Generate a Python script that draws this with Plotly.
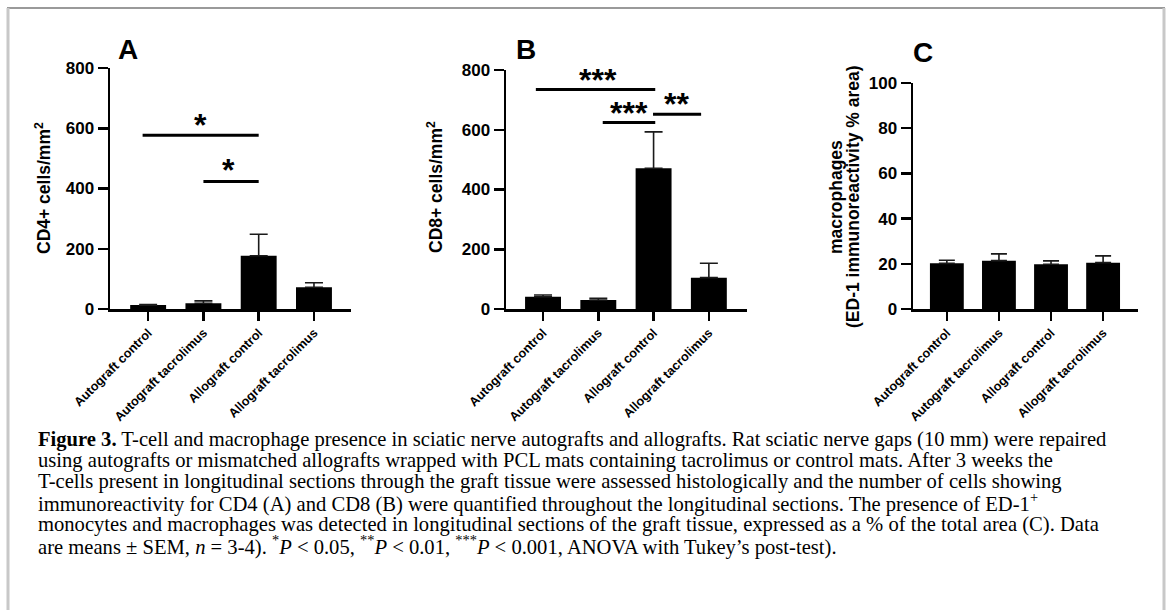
import plotly.graph_objects as go

W, H = 1166, 610

categories = ["Autograft control", "Autograft tacrolimus", "Allograft control", "Allograft tacrolimus"]

cd4_mean = [13, 19, 177, 72]
cd4_sem = [2, 8, 71, 15]

cd8_mean = [41, 30, 471, 105]
cd8_sem = [6, 6, 122, 48]

ed1_mean = [20.2, 21.4, 19.8, 20.5]
ed1_sem = [1.4, 3.0, 1.5, 3.0]

# significance brackets: (x start, x end, line y, label x, label y, label)
sig_A = [(-0.1, 2.0, 577, 0.94, 630, "*"), (1.0, 2.0, 423, 1.46, 481, "*")]
sig_B = [(-0.13, 2.03, 735, 1.0, 787, "***"), (1.08, 2.03, 624, 1.55, 677, "***"),
         (1.99, 2.86, 652, 2.41, 707, "**")]

yticks_AB = [0, 200, 400, 600, 800]
yticks_C = [0, 20, 40, 60, 80, 100]

caption_lines = [
    "<b>Figure 3.</b> T-cell and macrophage presence in sciatic nerve autografts and allografts. Rat sciatic nerve gaps (10 mm) were repaired",
    "using autografts or mismatched allografts wrapped with PCL mats containing tacrolimus or control mats. After 3 weeks the",
    "T-cells present in longitudinal sections through the graft tissue were assessed histologically and the number of cells showing",
    "immunoreactivity for CD4 (A) and CD8 (B) were quantified throughout the longitudinal sections. The presence of ED-1<sup>+</sup>",
    "monocytes and macrophages was detected in longitudinal sections of the graft tissue, expressed as a % of the total area (C). Data",
    "are means \u00b1 SEM, <i>n</i> = 3-4). <sup>*</sup><i>P</i> &lt; 0.05, <sup>**</sup><i>P</i> &lt; 0.01, <sup>***</sup><i>P</i> &lt; 0.001, ANOVA with Tukey\u2019s post-test).",
]

SANS = "Liberation Sans, Arial, sans-serif"
SERIF = "Liberation Serif, Times New Roman, serif"

def px_x(p):
    return p / W

def px_y(p):
    return 1 - p / H

panels = [
    dict(mean=cd4_mean, sem=cd4_sem, x0=110, x1=351, ytop=68, ybot=309, xr=[-0.69, 3.67],
         yr=[0, 800], ticks=yticks_AB, cap=9),
    dict(mean=cd8_mean, sem=cd8_sem, x0=506, x1=747, ytop=70, ybot=309, xr=[-0.67, 3.69],
         yr=[0, 800], ticks=yticks_AB, cap=9),
    dict(mean=ed1_mean, sem=ed1_sem, x0=913, x1=1138, ytop=83, ybot=309, xr=[-0.65, 3.67],
         yr=[0, 100], ticks=yticks_C, cap=8),
]

fig = go.Figure()
layout = dict(width=W, height=H,
              margin=dict(l=0, r=0, t=0, b=0, pad=0, autoexpand=False),
              paper_bgcolor="white", plot_bgcolor="white", showlegend=False,
              template="none")

for i, p in enumerate(panels):
    sfx = "" if i == 0 else str(i + 1)
    fig.add_trace(go.Bar(
        x=list(range(len(categories))), y=p["mean"], width=0.65,
        marker=dict(color="black", line=dict(width=0)),
        error_y=dict(type="data", symmetric=False, array=p["sem"],
                     arrayminus=[0] * len(p["sem"]), color="#1a1a1a",
                     thickness=1.6, width=p["cap"]),
        xaxis="x" + sfx, yaxis="y" + sfx,
    ))
    layout["xaxis" + sfx] = dict(
        domain=[px_x(p["x0"]), px_x(p["x1"])], range=p["xr"], anchor="y" + sfx,
        tickmode="array", tickvals=list(range(len(categories))), ticktext=categories,
        tickangle=-45, ticks="outside", ticklen=9, tickwidth=2.5, tickcolor="black",
        showline=True, linewidth=2.5, linecolor="black", showgrid=False, zeroline=False,
        tickfont=dict(family=SANS, size=12.7, color="black", weight="bold"),
        automargin=False, fixedrange=True,
    )
    layout["yaxis" + sfx] = dict(
        domain=[px_y(p["ybot"]), px_y(p["ytop"])], range=p["yr"], anchor="x" + sfx,
        tickmode="array", tickvals=p["ticks"], ticks="outside", ticklen=10,
        tickwidth=2.5, tickcolor="black", showline=True, linewidth=2.5,
        linecolor="black", showgrid=False, zeroline=False,
        tickfont=dict(family=SANS, size=17, color="black", weight="bold"),
        automargin=False, fixedrange=True,
    )

shapes = []
annotations = []

for sfx, sigs in (("", sig_A), ("2", sig_B)):
    for (xs, xe, yl, lx, ly, lab) in sigs:
        shapes.append(dict(type="line", xref="x" + sfx, yref="y" + sfx,
                           x0=xs, x1=xe, y0=yl, y1=yl,
                           line=dict(color="black", width=3)))
        annotations.append(dict(xref="x" + sfx, yref="y" + sfx, x=lx, y=ly, text=lab,
                                showarrow=False, xanchor="center", yanchor="middle",
                                yshift=-6,
                                font=dict(family=SANS, size=32, color="black", weight="bold")))

# panel letters
for lab, xpx, ypx in (("A", 128, 50), ("B", 526, 50), ("C", 923, 52)):
    annotations.append(dict(xref="paper", yref="paper", x=px_x(xpx), y=px_y(ypx), text=lab,
                            showarrow=False, xanchor="center", yanchor="middle",
                            font=dict(family=SANS, size=28, color="black", weight="bold")))

# y-axis titles
ytitles = [("CD4+ cells/mm<sup>2</sup>", 43, 188), ("CD8+ cells/mm<sup>2</sup>", 435, 187),
           ("macrophages", 836, 197), ("(ED-1 immunoreactivity % area)", 853, 197)]
for txt, xpx, ypx in ytitles:
    annotations.append(dict(xref="paper", yref="paper", x=px_x(xpx), y=px_y(ypx), text=txt,
                            showarrow=False, textangle=-90, xanchor="center", yanchor="middle",
                            font=dict(family=SANS, size=17.5, color="black", weight="bold")))

# caption
for k, line in enumerate(caption_lines):
    annotations.append(dict(xref="paper", yref="paper", x=px_x(36), y=px_y(439 + 21.3 * k),
                            text=line, showarrow=False, xanchor="left", yanchor="middle",
                            align="left",
                            font=dict(family=SERIF, size=20.6, color="black")))

# frame
shapes += [
    dict(type="line", xref="paper", yref="paper", x0=px_x(7), x1=px_x(1165), y0=px_y(8), y1=px_y(8),
         line=dict(color="#9a9a9a", width=2)),
    dict(type="line", xref="paper", yref="paper", x0=px_x(8), x1=px_x(8), y0=px_y(8), y1=0,
         line=dict(color="#c8c8c8", width=3)),
    dict(type="line", xref="paper", yref="paper", x0=px_x(1164), x1=px_x(1164), y0=px_y(8), y1=0,
         line=dict(color="#c8c8c8", width=3)),
]

layout["shapes"] = shapes
layout["annotations"] = annotations
fig.update_layout(**layout)
fig.write_html("out.html", config={"displayModeBar": False, "staticPlot": True},
               post_script="document.body.style.margin='0px';document.body.style.overflow='hidden';")
